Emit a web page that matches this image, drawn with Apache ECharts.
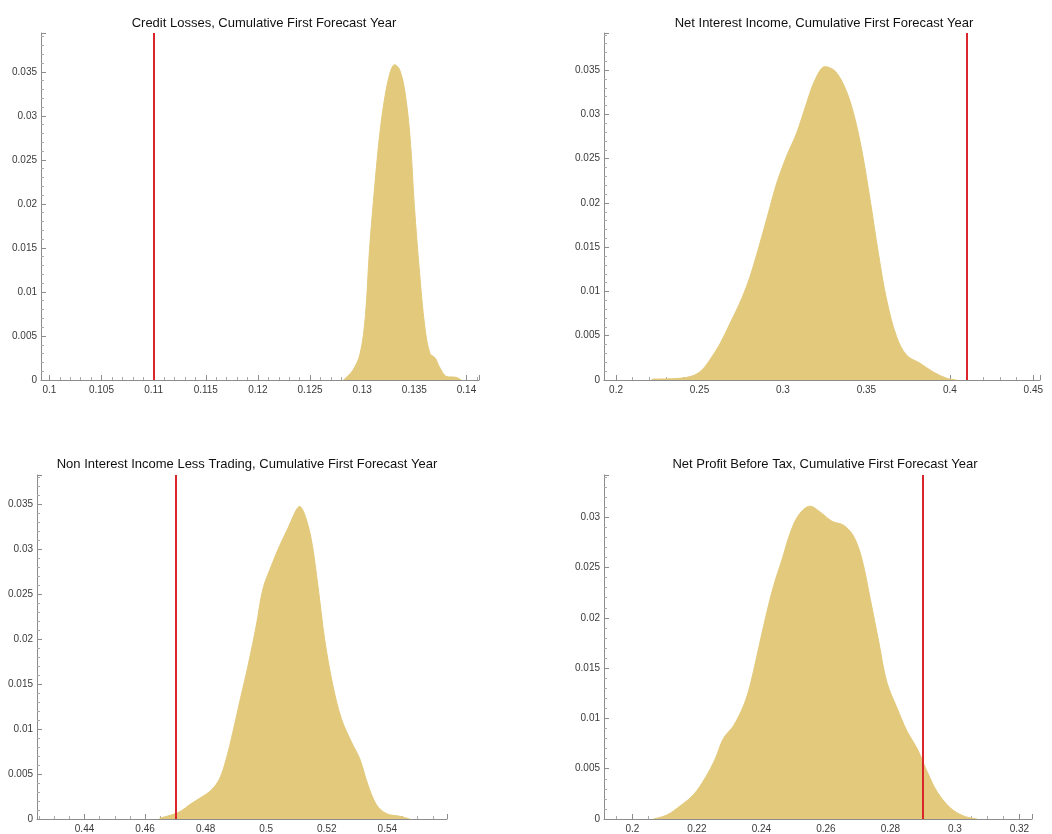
<!DOCTYPE html>
<html>
<head>
<meta charset="utf-8">
<script src="https://cdn.jsdelivr.net/npm/echarts@6/dist/echarts.min.js"></script>
<style>
  html, body { margin: 0; padding: 0; background: #fff; }
  #chart { width: 1052px; height: 834px; }
</style>
</head>
<body>
<div id="chart"></div>
<script>
// panel titles
var titles = [
    'Credit Losses, Cumulative First Forecast Year',
    'Net Interest Income, Cumulative First Forecast Year',
    'Non Interest Income Less Trading, Cumulative First Forecast Year',
    'Net Profit Before Tax, Cumulative First Forecast Year'
];

// density curves (x value, density)
var creditX = [0.1282, 0.1291, 0.1298, 0.1303, 0.1307, 0.1312, 0.1317, 0.1322, 0.1327, 0.1331, 0.1336, 0.1341, 0.1346, 0.1350, 0.1355, 0.1360, 0.1365, 0.1370, 0.1374, 0.1381, 0.1390, 0.1395];
var creditY = [0, 0.0011, 0.0030, 0.0072, 0.0148, 0.0220, 0.0281, 0.0323, 0.0350, 0.0358, 0.0352, 0.0327, 0.0274, 0.0198, 0.0122, 0.0061, 0.0030, 0.0025, 0.0015, 0.0004, 0.0003, 0];

var niiX = [0.2214, 0.2383, 0.2463, 0.2513, 0.2563, 0.2623, 0.2683, 0.2753, 0.2803, 0.2863, 0.2913, 0.2962, 0.3022, 0.3082, 0.3142, 0.3192, 0.3252, 0.3312, 0.3372, 0.3422, 0.3472, 0.3522, 0.3572, 0.3622, 0.3681, 0.3741, 0.3821, 0.3901, 0.3981, 0.4041];
var niiY = [0.0001, 0.0002, 0.0005, 0.0011, 0.0023, 0.0041, 0.0064, 0.0092, 0.0117, 0.0155, 0.0189, 0.0222, 0.0253, 0.0279, 0.0313, 0.0339, 0.0354, 0.0349, 0.0330, 0.0302, 0.0260, 0.0204, 0.0143, 0.0090, 0.0049, 0.0028, 0.0019, 0.0009, 0.0002, 0];

var nonIntX = [0.4648, 0.4692, 0.4719, 0.4747, 0.4780, 0.4818, 0.4846, 0.4868, 0.4890, 0.4912, 0.4940, 0.4967, 0.4989, 0.5017, 0.5044, 0.5072, 0.5099, 0.5110, 0.5127, 0.5149, 0.5171, 0.5193, 0.5220, 0.5248, 0.5281, 0.5309, 0.5336, 0.5364, 0.5397, 0.5441, 0.5474];
var nonIntY = [0.0001, 0.0005, 0.0009, 0.0016, 0.0023, 0.0032, 0.0045, 0.0067, 0.0097, 0.0130, 0.0171, 0.0215, 0.0256, 0.0282, 0.0304, 0.0324, 0.0344, 0.0348, 0.0339, 0.0311, 0.0259, 0.0200, 0.0149, 0.0112, 0.0086, 0.0067, 0.0038, 0.0016, 0.0006, 0.0003, 0];

var npbtX = [0.2065, 0.2107, 0.2148, 0.2189, 0.2226, 0.2257, 0.2282, 0.2314, 0.2345, 0.2365, 0.2386, 0.2412, 0.2438, 0.2464, 0.2489, 0.2515, 0.2551, 0.2583, 0.2619, 0.2655, 0.2686, 0.2712, 0.2738, 0.2764, 0.2789, 0.2821, 0.2852, 0.2883, 0.2914, 0.2945, 0.2986, 0.3027, 0.3069];
var npbtY = [0, 0.0004, 0.0013, 0.0024, 0.0041, 0.0060, 0.0080, 0.0093, 0.0113, 0.0133, 0.0162, 0.0199, 0.0232, 0.0258, 0.0284, 0.0302, 0.0311, 0.0305, 0.0296, 0.0292, 0.0281, 0.0258, 0.0218, 0.0176, 0.0136, 0.0110, 0.0087, 0.0070, 0.0047, 0.0027, 0.0011, 0.0003, 0];

// red reference lines (actual outcome)
var actuals = [0.11, 0.4104, 0.4717, 0.2892];

// axis ranges and tick steps
var xMins = [0.0992, 0.1928, 0.4243, 0.1912];
var xMaxs = [0.1412, 0.454, 0.5597, 0.3239];
var xSteps = [0.005, 0.05, 0.02, 0.02];
var xMinorSplits = [5, 5, 4, 4];
var yMaxs = [0.0394, 0.0392, 0.0383, 0.0342];

var curves = [[creditX, creditY], [niiX, niiY], [nonIntX, nonIntY], [npbtX, npbtY]];

// panel boxes in pixels
var boxes = [
    { left: 41, top: 33, width: 438, height: 347 },
    { left: 604, top: 33, width: 436, height: 347 },
    { left: 37, top: 475, width: 410, height: 346 },
    { left: 604, top: 475, width: 428, height: 346 }
];
var titleCenters = [[259, 12], [819, 12], [242, 453], [820, 453]];

var FONT = '"Liberation Sans", Arial, sans-serif';
var axisGray = '#8c8c8c';
var labelColor = '#3a3a3a';

function fmt(v) {
    return String(+v.toFixed(4));
}

var option = {
    animation: false,
    backgroundColor: '#ffffff',
    title: [],
    grid: [],
    xAxis: [],
    yAxis: [],
    series: []
};

for (var i = 0; i < 4; i++) {
    option.title.push({
        text: titles[i],
        left: titleCenters[i][0],
        top: titleCenters[i][1],
        textAlign: 'center',
        textStyle: { fontFamily: FONT, fontSize: 13, fontWeight: 'normal', color: '#111111' }
    });
    option.grid.push(Object.assign({ containLabel: false }, boxes[i]));
    option.xAxis.push({
        type: 'value',
        gridIndex: i,
        min: xMins[i],
        max: xMaxs[i],
        minInterval: xSteps[i],
        maxInterval: xSteps[i],
        splitNumber: 6,
        splitLine: { show: false },
        axisLine: { show: true, onZero: false, lineStyle: { color: axisGray, width: 1 } },
        axisTick: { show: true, inside: true, length: 5, lineStyle: { color: axisGray } },
        minorTick: { show: true, splitNumber: xMinorSplits[i], length: 3, lineStyle: { color: '#aaaaaa' } },
        axisLabel: {
            showMinLabel: false, showMaxLabel: false,
            fontFamily: FONT, fontSize: 10, color: labelColor, margin: 5,
            formatter: fmt
        }
    });
    option.yAxis.push({
        type: 'value',
        gridIndex: i,
        min: 0,
        max: yMaxs[i],
        minInterval: 0.005,
        maxInterval: 0.005,
        splitNumber: 7,
        splitLine: { show: false },
        axisLine: { show: true, onZero: false, lineStyle: { color: axisGray, width: 1 } },
        axisTick: { show: true, inside: true, length: 5, lineStyle: { color: axisGray } },
        minorTick: { show: true, splitNumber: 5, length: 3, lineStyle: { color: '#aaaaaa' } },
        axisLabel: {
            showMaxLabel: false,
            fontFamily: FONT, fontSize: 10, color: labelColor, margin: 4,
            formatter: fmt
        }
    });

    var pts = curves[i][0].map(function (x, k) { return [x, curves[i][1][k]]; });
    option.series.push({
        type: 'line',
        xAxisIndex: i,
        yAxisIndex: i,
        data: pts,
        smooth: 0.35,
        showSymbol: false,
        silent: true,
        lineStyle: { width: 1, color: '#e2c97c' },
        areaStyle: { color: '#e2c97c', opacity: 1 },
        markLine: {
            silent: true,
            symbol: ['none', 'none'],
            label: { show: false },
            lineStyle: { color: '#d8262b', width: 2, type: 'solid' },
            data: [{ xAxis: actuals[i] }]
        },
        z: 2
    });
}

var chart = echarts.init(document.getElementById('chart'), null, { renderer: 'canvas' });
chart.setOption(option);
</script>
</body>
</html>
